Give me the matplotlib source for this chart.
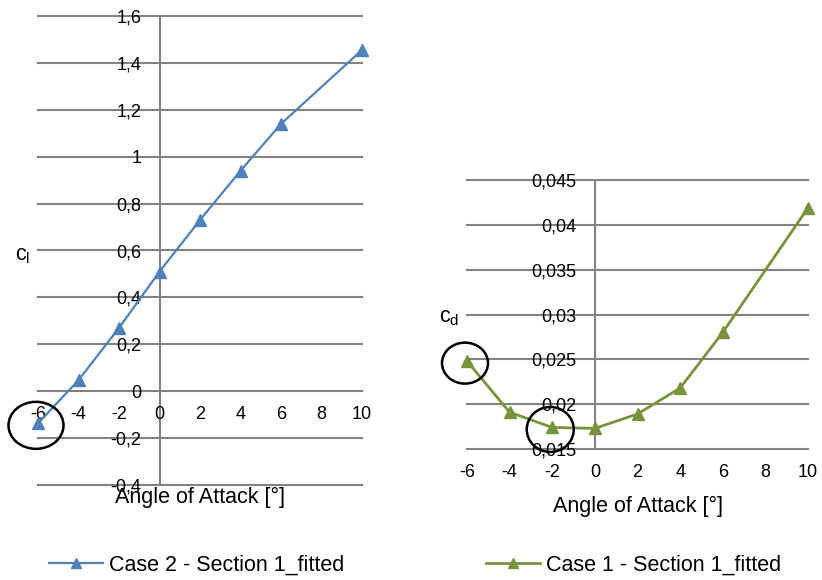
import matplotlib
matplotlib.use("Agg")
import matplotlib.pyplot as plt
from matplotlib.patches import Ellipse
from matplotlib.transforms import ScaledTranslation

# angle of attack and coefficients
alpha = [-6, -4, -2, 0, 2, 4, 6, 10]
cl_case2 = [-0.137, 0.047, 0.27, 0.51, 0.73, 0.94, 1.14, 1.455]
cd_case1 = [0.0248, 0.0191, 0.0174, 0.0173, 0.0189, 0.0218, 0.0280, 0.0419]

x_ticks = [-6, -4, -2, 0, 2, 4, 6, 8, 10]
cl_ticks = [-0.4, -0.2, 0, 0.2, 0.4, 0.6, 0.8, 1, 1.2, 1.4, 1.6]
cl_tick_labels = ["-0,4", "-0,2", "0", "0,2", "0,4", "0,6", "0,8", "1", "1,2", "1,4", "1,6"]
cd_ticks = [0.015, 0.02, 0.025, 0.03, 0.035, 0.04, 0.045]
cd_tick_labels = ["0,015", "0,02", "0,025", "0,03", "0,035", "0,04", "0,045"]

# circled points (alpha, value)
cl_marked = [(-6, -0.137)]
cd_marked = [(-6, 0.0248), (-2, 0.0174)]

plt.rcParams['font.family'] = ['Liberation Sans', 'DejaVu Sans']
plt.rcParams['mathtext.default'] = 'regular'
plt.rcParams['axes.unicode_minus'] = False

BLUE = '#4F81BD'
GREEN = '#77933C'
GRID = '#828282'

fig = plt.figure(figsize=(8.22, 5.8), dpi=100)
ax1 = fig.add_axes([38 / 822, 1 - 485 / 580, 324 / 822, 469 / 580])
ax2 = fig.add_axes([467 / 822, 1 - 449 / 580, 341 / 822, 269 / 580])


def style_axes(ax, yticks, ylabels, ylim, xaxis_at):
    ax.set_xlim(-6, 10)
    ax.set_ylim(*ylim)
    ax.set_xticks(x_ticks)
    ax.set_yticks(yticks)
    ax.set_yticklabels(ylabels)
    for s in ['top', 'right', 'left', 'bottom']:
        ax.spines[s].set_visible(False)
    ax.spines['left'].set_position(('data', 0))
    ax.spines['bottom'].set_position(('data', xaxis_at))
    ax.tick_params(axis='both', length=0, labelsize=13, labelcolor='black')
    ax.tick_params(axis='y', pad=13)
    ax.tick_params(axis='x', pad=11)
    for y in yticks:
        ax.axhline(y, color=GRID, lw=1.5, zorder=1, clip_on=False)
    ax.axvline(0, color=GRID, lw=1.5, zorder=1)
    ax.set_facecolor('none')


style_axes(ax1, cl_ticks, cl_tick_labels, (-0.4, 1.6), 0)
style_axes(ax2, cd_ticks, cd_tick_labels, (0.015, 0.045), 0.015)

ax1.plot(alpha, cl_case2, color=BLUE, lw=1.6, marker='^', ms=9,
         label='Case 2 - Section 1_fitted', zorder=3, clip_on=False)
ax2.plot(alpha, cd_case1, color=GREEN, lw=2.0, marker='^', ms=9,
         label='Case 1 - Section 1_fitted', zorder=3, clip_on=False)

# black circles round the marked points
for ax, pts, sizes in [(ax1, cl_marked, [(0.55, 0.47)]),
                       (ax2, cd_marked, [(0.46, 0.41), (0.47, 0.45)])]:
    for (px, py), (w, h) in zip(pts, sizes):
        tr = fig.dpi_scale_trans + ScaledTranslation(px, py, ax.transData)
        ax.add_patch(Ellipse((-0.02, -0.02), w, h, transform=tr, fill=False,
                             ec='black', lw=1.8, clip_on=False, zorder=4))

fig.text(200 / 822, 1 - 497 / 580, 'Angle of Attack [°]', fontsize=15.5,
         ha='center', va='center')
fig.text(637.5 / 822, 1 - 506 / 580, 'Angle of Attack [°]', fontsize=15.5,
         ha='center', va='center')
fig.text(23 / 822, 1 - 255 / 580, 'c$_l$', fontsize=15.5, ha='center', va='center')
fig.text(449 / 822, 1 - 318 / 580, 'c$_d$', fontsize=15.5, ha='center', va='center')

leg_kw = dict(frameon=False, fontsize=15.5, loc='center left', borderpad=0,
              borderaxespad=0, handlelength=2.5, handletextpad=0.3)
fig.legend(handles=ax1.get_lines()[-1:], bbox_to_anchor=(49 / 822, 1 - 565 / 580), **leg_kw)
fig.legend(handles=ax2.get_lines()[-1:], bbox_to_anchor=(486 / 822, 1 - 565 / 580), **leg_kw)

for ln in fig.legends[0].get_lines() + fig.legends[1].get_lines():
    ln.set_markersize(7)

fig.savefig('out.png', dpi=100)
